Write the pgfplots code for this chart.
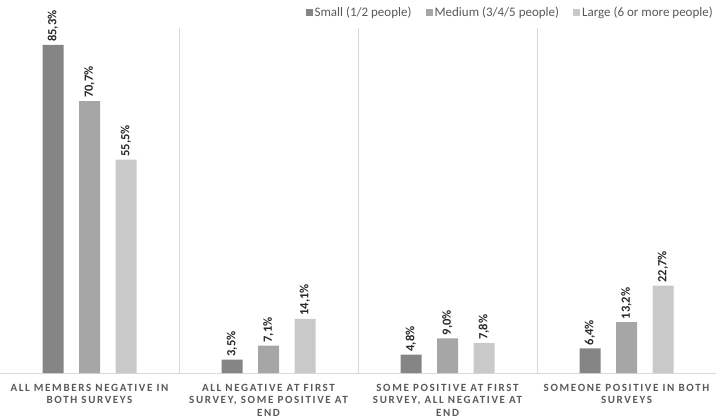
\documentclass[border=0pt]{standalone}
\usepackage{pgfplots}
\pgfplotsset{compat=1.18}
\usepackage{fontspec}
\setmainfont{Carlito}
\newfontfamily\catfont[LetterSpace=15]{Carlito}
\definecolor{smallc}{HTML}{858585}
\definecolor{medc}{HTML}{A6A6A6}
\definecolor{largec}{HTML}{C9C9C9}
\definecolor{sepc}{HTML}{D9D9D9}
\definecolor{labc}{HTML}{595959}
\definecolor{valc}{HTML}{262626}
\begin{document}
\begin{tikzpicture}
\begin{axis}[
    scale only axis, width=716pt, height=345pt,
    ybar=15.5pt, bar width=21pt,
    xmin=-0.5, xmax=3.5, ymin=0, ymax=89.7,
    axis y line=none, axis x line*=bottom,
    x axis line style={draw=sepc},
    xtick={0,1,2,3}, major tick length=0pt,
    xticklabels={{ALL MEMBERS NEGATIVE IN\\BOTH SURVEYS},
                 {ALL NEGATIVE AT FIRST\\SURVEY, SOME POSITIVE AT\\END},
                 {SOME POSITIVE AT FIRST\\SURVEY, ALL NEGATIVE AT\\END},
                 {SOMEONE POSITIVE IN BOTH\\SURVEYS}},
    xticklabel style={align=center, text=labc, yshift=-9pt, inner sep=2pt,
        font=\catfont\bfseries\fontsize{11}{12.5}\selectfont},
    extra x ticks={0.5,1.5,2.5}, extra x tick labels={},
    extra x tick style={grid=major, major grid style={draw=sepc, line width=0.6pt}},
    nodes near coords={\pgfmathprintnumber[fixed,fixed zerofill,precision=1,use comma,assume math mode=true]{\pgfplotspointmeta}\%},
    every node near coord/.append style={rotate=90, anchor=west, text=valc,
        font=\bfseries\fontsize{12.5}{14}\selectfont, inner sep=3pt},
    legend columns=3,
    legend style={at={(1,1)}, anchor=south east, yshift=7pt, draw=none,
        text=labc, font=\fontsize{13}{15}\selectfont, inner sep=1pt,
        /tikz/every even column/.append style={column sep=12pt}},
    legend image code/.code={\fill[#1] (0pt,-3.5pt) rectangle (7pt,3.5pt);},
]
\addplot[fill=smallc, draw=none] coordinates {(0,85.3) (1,3.5) (2,4.8) (3,6.4)};
\addplot[fill=medc, draw=none] coordinates {(0,70.7) (1,7.1) (2,9.0) (3,13.2)};
\addplot[fill=largec, draw=none] coordinates {(0,55.5) (1,14.1) (2,7.8) (3,22.7)};
\legend{Small (1/2 people), Medium (3/4/5 people), Large (6 or more people)}
\coordinate (ll) at (rel axis cs:0,0);
\coordinate (ur) at (rel axis cs:1,1);
\end{axis}
\pgfresetboundingbox
\path ([yshift=-45pt]ll) rectangle ([yshift=28pt]ur);
\end{tikzpicture}
\end{document}
